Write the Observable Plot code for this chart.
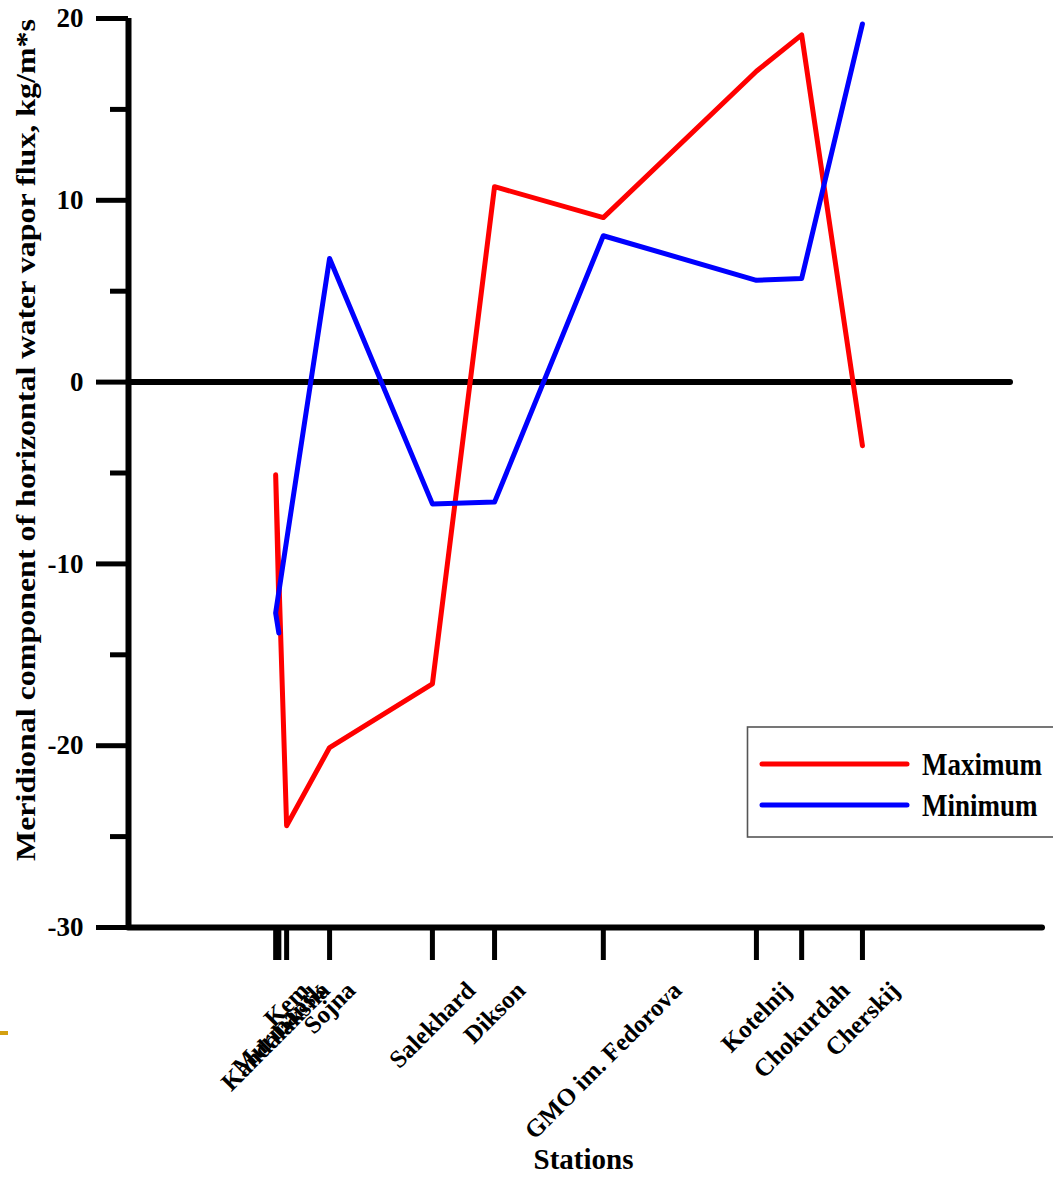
<!DOCTYPE html>
<html><head><meta charset="utf-8">
<script src="https://cdn.jsdelivr.net/npm/d3@7"></script>
<script src="https://cdn.jsdelivr.net/npm/@observablehq/plot@0.6"></script>
<style>body{margin:0;background:#fff}</style>
</head><body><div id="chart"></div>
<script>
// ---- data ----
const stations = ["Murmansk","Kandalaksha","Kem","Sojna","Salekhard","Dikson","GMO im. Fedorova","Kotelnij","Chokurdah","Cherskij"];
const longitude = [32.9, 32.2, 34.6, 44.0, 66.5, 80.1, 103.9, 137.4, 147.3, 160.6];
const maximum = [-12.2, -5.1, -24.4, -20.1, -16.6, 10.75, 9.05, 17.1, 19.1, -3.5];
const minimum = [-13.8, -12.7, -8.7, 6.8, -6.7, -6.6, 8.05, 5.6, 5.7, 19.7];
const seriesNames = ["Maximum", "Minimum"];
const seriesColors = ["#ff0000", "#0000ff"];
const yMajorTicks = [-30, -20, -10, 0, 10, 20];
const yMinorTicks = [-25, -15, -5, 5, 15];
const xDomain = [0, 200];
const yDomain = [-30, 20];
const zeroLineEnd = 193;
const yTitle = "Meridional component of horizontal water vapor flux, kg/m*s";
const xTitle = "Stations";

const rows = [];
stations.forEach((s, i) => rows.push({station: s, lon: longitude[i], value: maximum[i], series: seriesNames[0]}));
stations.forEach((s, i) => rows.push({station: s, lon: longitude[i], value: minimum[i], series: seriesNames[1]}));

const FONT = "'Liberation Serif', 'Times New Roman', serif";
const ctx = document.createElement("canvas").getContext("2d");
const labelSize = 25;
ctx.font = `bold ${labelSize}px 'Liberation Serif'`;
const stationLabelMarks = stations.map((s, i) => {
  const L = ctx.measureText(s).width;
  return Plot.text([{s, lon: longitude[i]}], {
    x: "lon", text: "s", frameAnchor: "bottom", rotate: -45,
    textAnchor: "middle", lineAnchor: "middle",
    dy: 51 + (L + 22) * 0.3536, fontSize: labelSize, fontWeight: "bold"
  });
});

const plot = Plot.plot({
  width: 1053, height: 1177,
  marginLeft: 128, marginRight: 11, marginTop: 18, marginBottom: 250,
  style: {fontFamily: FONT, fontWeight: "bold", background: "white", color: "black"},
  x: {domain: xDomain},
  y: {domain: yDomain},
  color: {domain: seriesNames, range: seriesColors},
  marks: [
    Plot.axisY({ticks: yMinorTicks, tickSize: 18, strokeWidth: 5, tickFormat: () => "", label: null}),
    Plot.axisY({ticks: yMajorTicks, tickSize: 32, tickPadding: 13, strokeWidth: 5, fontSize: 27, fontWeight: "bold", tickFormat: d => String(d), label: null}),
    Plot.axisX({ticks: longitude, tickSize: 33, strokeWidth: 5, tickFormat: () => "", label: null}),
    Plot.ruleY([0], {x1: xDomain[0], x2: zeroLineEnd, strokeWidth: 6, strokeLinecap: "round"}),
    Plot.ruleX([xDomain[0]], {strokeWidth: 6}),
    Plot.ruleY([yDomain[0]], {strokeWidth: 6, strokeLinecap: "round"}),
    Plot.line(rows, {x: "lon", y: "value", z: "series", stroke: "series", strokeWidth: 5, strokeLinecap: "round", strokeLinejoin: "round"}),
    ...stationLabelMarks,
    Plot.text([xTitle], {frameAnchor: "bottom", dx: -2, dy: 232, fontSize: 29, fontWeight: "bold", lineAnchor: "middle"}),
    Plot.text([yTitle], {frameAnchor: "left", rotate: -90, dx: -102, dy: 388, fontSize: 27, fontWeight: "bold", textAnchor: "start", lineAnchor: "middle"})
  ]
});
document.getElementById("chart").appendChild(plot);

// stretch y title to reference length
d3.select(plot).selectAll("text")
  .filter(function() { return this.textContent === yTitle; })
  .attr("textLength", 842).attr("lengthAdjust", "spacingAndGlyphs");

// legend
const svg = d3.select(plot);
const lg = svg.append("g").attr("font-family", FONT).attr("font-weight", "bold").attr("text-anchor", "start");
lg.append("rect").attr("x", 747.5).attr("y", 727).attr("width", 330).attr("height", 110)
  .attr("fill", "white").attr("stroke", "#555").attr("stroke-width", 1.6);
seriesNames.forEach((name, i) => {
  const y = 764 + i * 41;
  const by = y + 11;
  lg.append("line").attr("x1", 762).attr("x2", 907).attr("y1", y).attr("y2", y)
    .attr("stroke", seriesColors[i]).attr("stroke-width", 5).attr("stroke-linecap", "round");
  lg.append("text").attr("x", 922).attr("y", by).attr("font-size", 27).attr("text-anchor", "start")
    .attr("transform", `translate(0,${by}) scale(1,1.2) translate(0,${-by})`)
    .attr("fill", "black").text(name);
});
// small decorative slide mark at left edge
svg.append("rect").attr("x", 0).attr("y", 1031).attr("width", 8).attr("height", 4).attr("fill", "#d4a010");
</script>
</body></html>
